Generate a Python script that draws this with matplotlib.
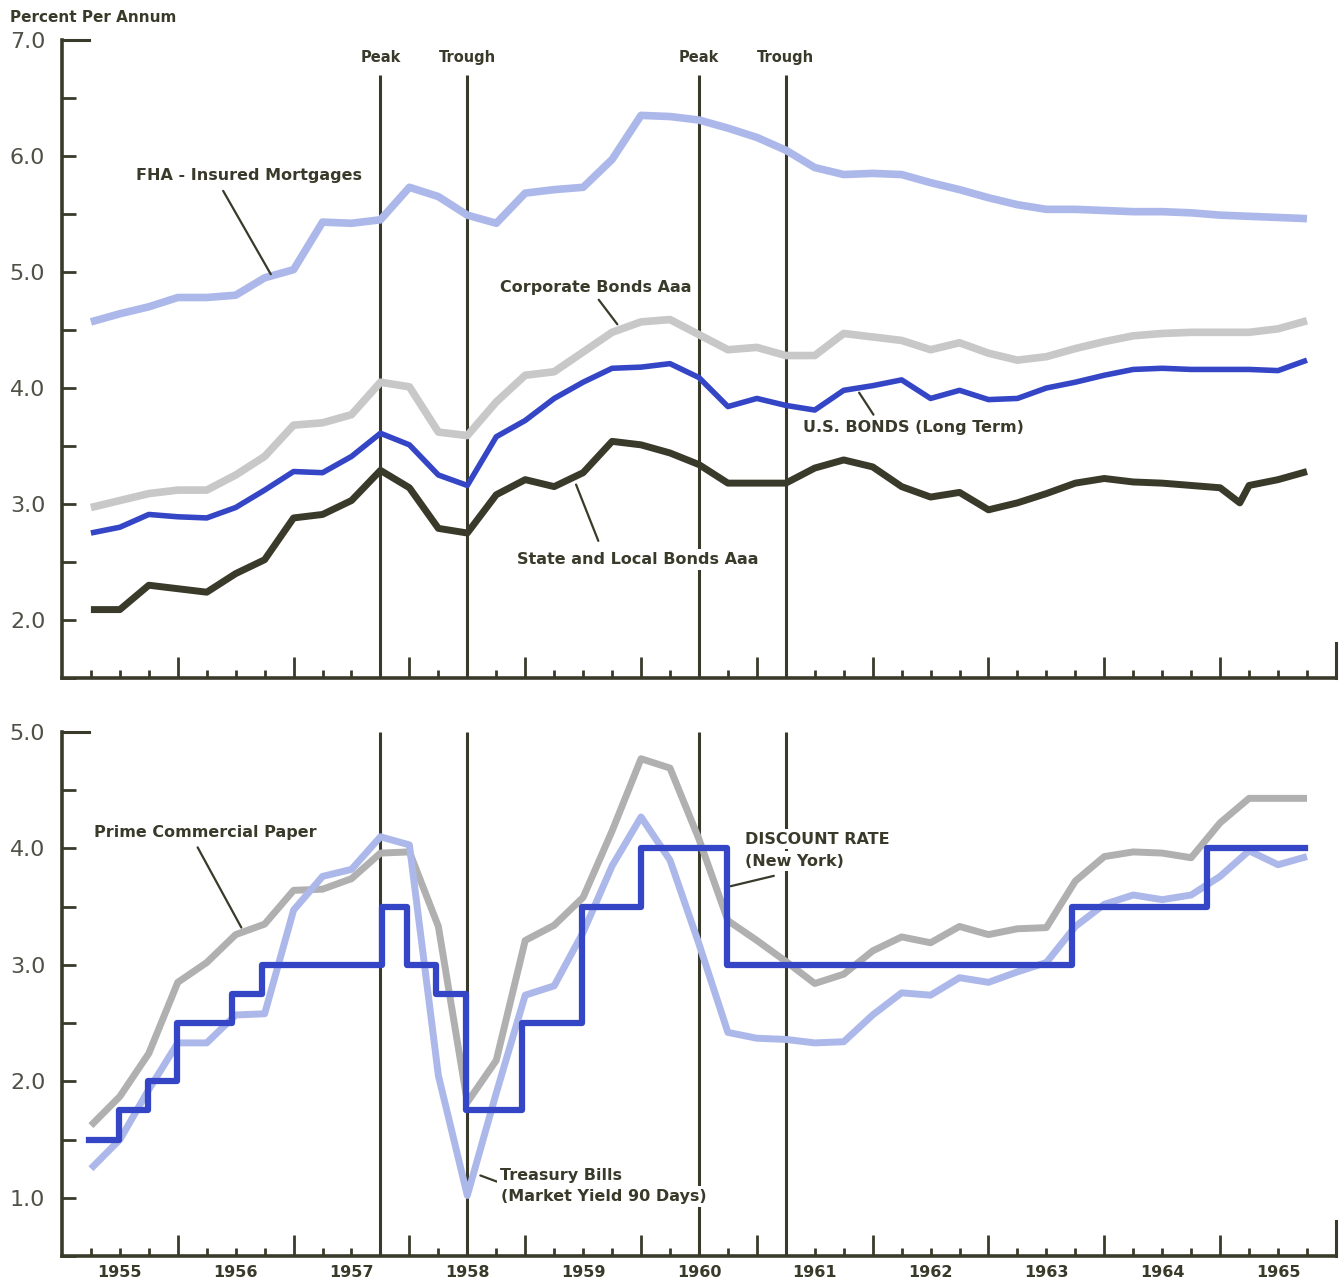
import numpy as np
import matplotlib
matplotlib.use("Agg")
import matplotlib.pyplot as plt

# quarterly observation dates, 1955 Q1 .. 1965 Q3
quarters = 1955 + np.arange(1, 44) / 4

# ---- upper panel: long-term yields (percent per annum) ----
fha = [4.57, 4.64, 4.70, 4.78, 4.78, 4.80, 4.95, 5.02, 5.43, 5.42, 5.45,
       5.73, 5.65, 5.49, 5.42, 5.68, 5.71, 5.73, 5.97, 6.35, 6.34, 6.31,
       6.24, 6.16, 6.05, 5.90, 5.84, 5.85, 5.84, 5.77, 5.71, 5.64, 5.58,
       5.54, 5.54, 5.53, 5.52, 5.52, 5.51, 5.49, 5.48, 5.47, 5.46]
corporate = [2.97, 3.03, 3.09, 3.12, 3.12, 3.25, 3.41, 3.68, 3.70, 3.77,
             4.05, 4.01, 3.62, 3.59, 3.88, 4.11, 4.14, 4.31, 4.48, 4.57,
             4.59, 4.46, 4.33, 4.35, 4.28, 4.28, 4.47, 4.44, 4.41, 4.33,
             4.39, 4.30, 4.24, 4.27, 4.34, 4.40, 4.45, 4.47, 4.48, 4.48,
             4.48, 4.51, 4.58]
us_bonds = [2.75, 2.80, 2.91, 2.89, 2.88, 2.97, 3.12, 3.28, 3.27, 3.41,
            3.61, 3.51, 3.25, 3.16, 3.58, 3.72, 3.91, 4.05, 4.17, 4.18,
            4.21, 4.09, 3.84, 3.91, 3.85, 3.81, 3.98, 4.02, 4.07, 3.91,
            3.98, 3.90, 3.91, 4.00, 4.05, 4.11, 4.16, 4.17, 4.16, 4.16,
            4.16, 4.15, 4.24]
state_local = [2.09, 2.09, 2.30, 2.27, 2.24, 2.40, 2.52, 2.88, 2.91, 3.03,
               3.29, 3.14, 2.79, 2.75, 3.08, 3.21, 3.15, 3.27, 3.54, 3.51,
               3.44, 3.34, 3.18, 3.18, 3.18, 3.31, 3.38, 3.32, 3.15, 3.06,
               3.10, 2.95, 3.01, 3.09, 3.18, 3.22, 3.19, 3.18, 3.16, 3.14,
               3.16, 3.21, 3.28]
# short dip in early 1965
sl_dip_t, sl_dip_v = 1965.17, 3.01

# ---- lower panel: short-term rates ----
prime_cp = [1.62, 1.87, 2.24, 2.85, 3.02, 3.26, 3.35, 3.64, 3.65, 3.74,
            3.96, 3.97, 3.33, 1.82, 2.18, 3.21, 3.34, 3.58, 4.15, 4.77,
            4.69, 4.08, 3.38, 3.21, 3.03, 2.84, 2.92, 3.12, 3.24, 3.19,
            3.33, 3.26, 3.31, 3.32, 3.72, 3.93, 3.97, 3.96, 3.92, 4.22,
            4.43, 4.43, 4.43]
tbills = [1.25, 1.50, 1.93, 2.33, 2.33, 2.57, 2.58, 3.47, 3.76, 3.82,
          4.10, 4.03, 2.05, 1.02, 1.90, 2.74, 2.82, 3.28, 3.85, 4.27,
          3.90, 3.18, 2.42, 2.37, 2.36, 2.33, 2.34, 2.57, 2.76, 2.74,
          2.89, 2.85, 2.94, 3.02, 3.33, 3.52, 3.60, 3.56, 3.60, 3.76,
          3.98, 3.86, 3.93]
disc_t = [1955.23, 1955.49, 1955.74, 1955.99, 1956.47, 1956.73, 1957.76,
          1957.98, 1958.23, 1958.49, 1958.97, 1959.49, 1960.0, 1960.74,
          1963.72, 1964.89, 1965.73]
disc_v = [1.50, 1.75, 2.00, 2.50, 2.75, 3.00, 3.50, 3.00, 2.75, 1.75,
          2.50, 3.50, 4.00, 3.00, 3.50, 4.00, 4.00]

# business cycle turning points
cycle_t = [1957.75, 1958.5, 1960.5, 1961.25]
cycle_lbl = ["Peak", "Trough", "Peak", "Trough"]

years = list(range(1955, 1966))

dark = "#3a3a2b"
blue = "#3446c6"
light_blue = "#adb8ea"
light_gray = "#c8c8c8"
mid_gray = "#b0b0b0"

fig = plt.figure(figsize=(13.44, 12.81), dpi=100)
ax1 = fig.add_axes([0.0461, 0.4707, 0.9479, 0.4981])
ax2 = fig.add_axes([0.0461, 0.0195, 0.9479, 0.4091])


def style_axis(ax, ymin, ymax):
    ax.set_xlim(1955, 1966)
    ax.set_ylim(ymin, ymax)
    for s in ["top", "right"]:
        ax.spines[s].set_visible(False)
    for s in ["left", "bottom"]:
        ax.spines[s].set_color(dark)
        ax.spines[s].set_linewidth(2.6)
    ax.set_xticks(years[1:])
    ax.set_xticks(np.arange(1955.25, 1966, 0.25), minor=True)
    ax.set_xticklabels([])
    ax.tick_params(axis="x", which="major", direction="in", length=15,
                   width=2, color=dark)
    ax.tick_params(axis="x", which="minor", direction="in", length=6,
                   width=2, color=dark)
    ax.set_yticks(np.arange(np.ceil(ymin), ymax + 0.01, 1.0))
    ax.set_yticks(np.arange(ymin, ymax, 0.5), minor=True)
    ax.set_yticklabels(["%.1f" % v for v in np.arange(np.ceil(ymin), ymax + 0.01, 1.0)])
    ax.tick_params(axis="y", which="both", direction="in", length=10,
                   width=2, color=dark, pad=12, labelsize=16,
                   labelcolor="#505046")
    # longer tick at top, taller end tick at right
    ax.axhline(ymax, xmin=0, xmax=27 / 1273, color=dark, lw=2.2, clip_on=False)
    ax.axvline(1966, ymin=0, ymax=35 / (ax.bbox.height), color=dark, lw=2.2,
               clip_on=False)


style_axis(ax1, 1.5, 7.0)
style_axis(ax2, 0.5, 5.0)

lab = dict(color=dark, fontsize=11.5, fontweight="bold", va="center",
           zorder=6, bbox=dict(facecolor="white", edgecolor="none", pad=2))
lead = dict(arrowstyle="-", color=dark, lw=1.6)
line_kw = dict(solid_joinstyle="round", solid_capstyle="butt")

# ---- upper panel ----
for t, l in zip(cycle_t, cycle_lbl):
    ax1.vlines(t, 1.5, 6.70, color=dark, lw=2.2, zorder=2)
    ax1.text(t, 6.845, l, ha="center", va="center", color=dark,
             fontsize=10.5, fontweight="bold")

ax1.plot(quarters, fha, color=light_blue, lw=5.5, zorder=3, **line_kw)
ax1.plot(quarters, corporate, color=light_gray, lw=5.5, zorder=3, **line_kw)
ax1.plot(quarters, us_bonds, color=blue, lw=4, zorder=4, **line_kw)
sl_t = np.insert(quarters, 40, sl_dip_t)
sl_v = np.insert(np.array(state_local), 40, sl_dip_v)
ax1.plot(sl_t, sl_v, color=dark, lw=5, zorder=4, **line_kw)

ax1.text(1955.64, 5.83, "FHA - Insured Mortgages", **lab)
ax1.annotate("", xy=(1956.815, 4.96), xytext=(1956.38, 5.72), arrowprops=lead)
ax1.text(1958.78, 4.87, "Corporate Bonds Aaa", **lab)
ax1.annotate("", xy=(1959.81, 4.53), xytext=(1959.62, 4.78), arrowprops=lead)
ax1.text(1961.40, 3.66, "U.S. BONDS (Long Term)", **lab)
ax1.annotate("", xy=(1962.02, 3.75), xytext=(1961.87, 3.98), arrowprops=lead)
ax1.text(1958.93, 2.52, "State and Local Bonds Aaa", **lab)
ax1.annotate("", xy=(1959.64, 2.66), xytext=(1959.43, 3.19), arrowprops=lead)

# ---- lower panel ----
for t in cycle_t:
    ax2.vlines(t, 0.5, 5.0, color=dark, lw=2.2, zorder=2)

ax2.plot(quarters, prime_cp, color=mid_gray, lw=5, zorder=3, **line_kw)
ax2.plot(quarters, tbills, color=light_blue, lw=5, zorder=3, **line_kw)
ax2.plot(disc_t, disc_v, color=blue, lw=4.5, drawstyle="steps-post", zorder=4)

ax2.text(1955.28, 4.14, "Prime Commercial Paper", **lab)
ax2.annotate("", xy=(1956.56, 3.30), xytext=(1956.16, 4.03), arrowprops=lead)
ax2.text(1960.90, 4.08, "DISCOUNT RATE", **lab)
ax2.text(1960.90, 3.89, "(New York)", **lab)
ax2.annotate("", xy=(1960.75, 3.67), xytext=(1961.17, 3.77), arrowprops=lead)
ax2.text(1958.78, 1.19, "Treasury Bills", **lab)
ax2.text(1958.79, 1.01, "(Market Yield 90 Days)", **lab)
ax2.annotate("", xy=(1958.59, 1.20), xytext=(1958.78, 1.13), arrowprops=lead)

for y in years:
    ax2.text(y + 0.5, -0.031, str(y), transform=ax2.get_xaxis_transform(),
             ha="center", va="center", color=dark, fontsize=11.5,
             fontweight="bold")

fig.text(0.0074, 0.9867, "Percent Per Annum", color=dark, fontsize=11,
         fontweight="bold", va="center", ha="left")

fig.savefig("out.png", dpi=100, facecolor="white")
